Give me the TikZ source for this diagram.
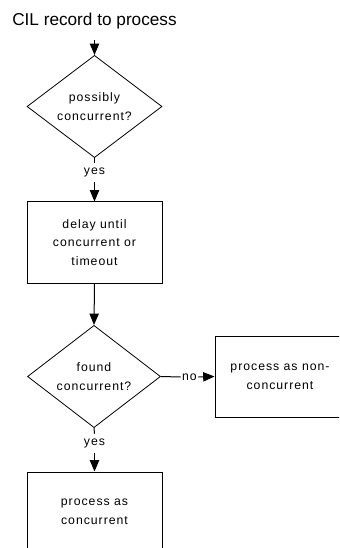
\documentclass[tikz,border=0pt]{standalone}
\usepackage{fontspec}
\setmainfont{Liberation Sans}
\newfontfamily\nodefont[LetterSpace=8]{Liberation Sans}
\usetikzlibrary{shapes.geometric,arrows.meta}
\begin{document}
\begin{tikzpicture}[x=0.75pt,y=-0.75pt,
  every node/.style={font=\nodefont\fontsize{9.2}{14}\selectfont, align=center, inner sep=0pt},
  decision/.style={diamond, draw, line width=0.6pt, minimum width=#1, minimum height=58.5pt},
  stepbox/.style={rectangle, draw, line width=0.75pt},
  flow/.style={line width=0.75pt},
  arr/.style={flow, -{Triangle[length=8.5pt,width=7pt]}},
  lbl/.style={minimum height=14.25pt}
]
\useasboundingbox (0,0) rectangle (339,548);
\clip (0,0) rectangle (339,548);
\node[anchor=base west, font=\fontsize{12.9}{15}\selectfont] (title) at (12,26) {CIL record to process};
\coordinate (start) at (94.5,40);
\node[decision=101.25pt] (d1) at (94.5,106.5) {possibly\\concurrent?};
\node[lbl] (yes1) at (94.5,172.5) {yes};
\node[stepbox, minimum width=101.25pt, minimum height=60.75pt] (b1) at (94.5,242.5) {delay until\\concurrent or\\timeout};
\node[decision=99.75pt] (d2) at (94,376.5) {found\\concurrent?};
\node[lbl, inner xsep=1pt] (no) at (189.5,377) {no};
\node[stepbox, minimum width=97.5pt, minimum height=60.75pt] (b2) at (280,376.5) {process as non-\\concurrent};
\node[lbl] (yes2) at (94.5,443.5) {yes};
\node[stepbox, minimum width=101.25pt, minimum height=60pt] (b3) at (94.5,512) {process as\\concurrent};
\draw[arr] (start) -- (d1.north);
\draw[flow] (d1.south) -- (yes1.north);
\draw[arr] (yes1.south) -- (b1.north);
\draw[arr] (b1.south) -- (d2.north);
\draw[flow] (d2.east) -- (no.west);
\draw[arr] (no.east) -- (b2.west);
\draw[flow] (d2.south) -- (yes2.north);
\draw[arr] (yes2.south) -- (b3.north);
\end{tikzpicture}
\end{document}
